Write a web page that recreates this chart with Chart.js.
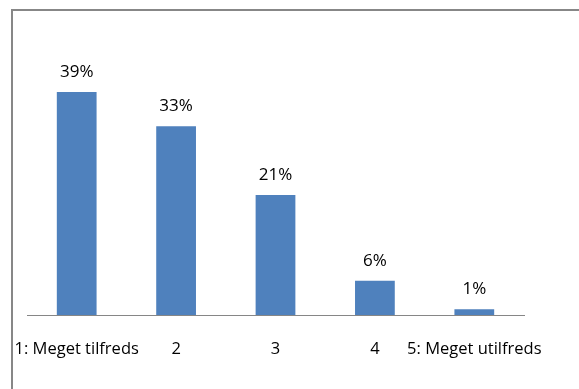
<!DOCTYPE html>
<html>
<head>
<meta charset="utf-8">
<script src="https://cdn.jsdelivr.net/npm/chart.js@4"></script>
<style>
  html, body { margin: 0; padding: 0; background: #fff; }
  #wrap { position: relative; width: 579px; height: 389px; overflow: hidden; }
  #frame {
    position: absolute; left: 11px; top: 9px; width: 700px; height: 500px;
    border-left: 2px solid #878787; border-top: 2px solid #878787;
    pointer-events: none;
  }
  canvas { position: absolute; left: 0; top: 0; }
</style>
</head>
<body>
<div id="wrap">
  <div id="frame"></div>
  <canvas id="c" width="579" height="389"></canvas>
</div>
<script>
// Satisfaction answers, share of respondents (%)
const categories = ['1: Meget tilfreds', '2', '3', '4', '5: Meget utilfreds'];
const shares = [39, 33, 21, 6, 1];
const valueLabels = shares.map(v => v + '%');

const FONT = '"Open Sans", Lato, sans-serif';

// Percentage printed above every bar
const valueLabelPlugin = {
  id: 'valueLabels',
  afterDatasetsDraw(chart) {
    const ctx = chart.ctx;
    const meta = chart.getDatasetMeta(0);
    ctx.save();
    ctx.font = '17px ' + FONT;
    ctx.fillStyle = '#000';
    ctx.textAlign = 'center';
    ctx.textBaseline = 'alphabetic';
    meta.data.forEach((bar, i) => {
      ctx.fillText(valueLabels[i], bar.x, bar.y - 15);
    });
    ctx.restore();
  }
};

// Category captions under each bar, well below the baseline
const captionPlugin = {
  id: 'captions',
  afterDraw(chart) {
    const scale = chart.scales.x;
    const ctx = chart.ctx;
    ctx.save();
    ctx.font = '16.5px ' + FONT;
    ctx.fillStyle = '#000';
    ctx.textAlign = 'center';
    ctx.textBaseline = 'middle';
    categories.forEach((label, i) => {
      ctx.fillText(label, scale.getPixelForValue(i), scale.top + 34);
    });
    ctx.restore();
  }
};

new Chart(document.getElementById('c'), {
  type: 'bar',
  data: {
    labels: categories,
    datasets: [{
      data: shares,
      backgroundColor: '#4F81BD',
      borderWidth: 0,
      categoryPercentage: 1,
      barPercentage: 0.4
    }]
  },
  options: {
    responsive: false,
    animation: false,
    layout: { padding: { left: 27, right: 55, top: 29, bottom: 74 } },
    plugins: { legend: { display: false }, tooltip: { enabled: false }, title: { display: false } },
    scales: {
      x: {
        grid: { display: false, drawTicks: false },
        border: { display: true, color: '#868686', width: 1 },
        ticks: { display: false }
      },
      y: { display: false, min: 0, max: 50 }
    }
  },
  plugins: [valueLabelPlugin, captionPlugin]
});
</script>
</body>
</html>
